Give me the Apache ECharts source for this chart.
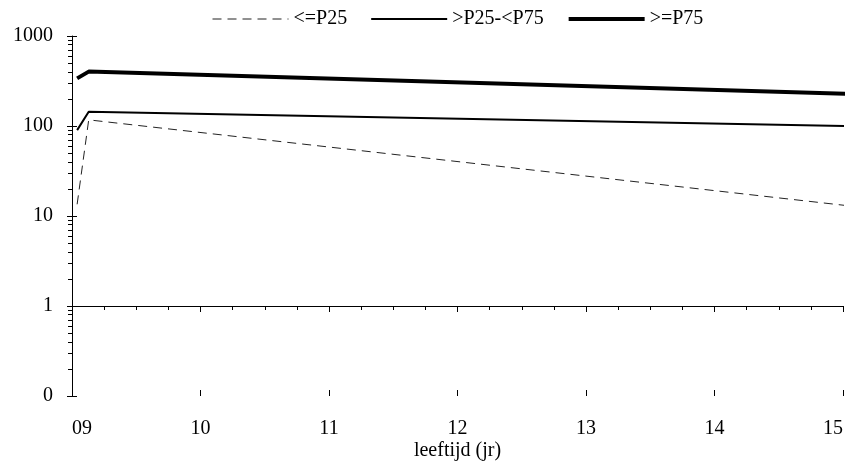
<!DOCTYPE html>
<html><head><meta charset="utf-8">
<script src="https://cdn.jsdelivr.net/npm/echarts@6/dist/echarts.min.js"></script>
<style>html,body{margin:0;padding:0;background:#fff}#c{width:857px;height:463px}</style>
</head><body><div id="c"></div>
<script>
// ---- data ----
const ages = [9.04, 9.13, 15.04];
const seriesNames = ['<=P25', '>P25-<P75', '>=P75'];
const valuesP25 = [13.5, 117, 13];
const valuesP25P75 = [90, 144, 100];
const valuesP75 = [338, 402, 228];
const xTickValues = [9, 10, 11, 12, 13, 14, 15];
const xTickLabels = ['09', '10', '11', '12', '13', '14', '15'];
const yTickValues = [0.1, 1, 10, 100, 1000];
const yTickLabels = ['0', '1', '10', '100', '1000'];
const yMinorTickValues = [0.2,0.3,0.4,0.5,0.6,0.7,0.8,0.9,2,3,4,5,6,7,8,9,20,30,40,50,60,70,80,90,200,300,400,500,600,700,800,900];

const FONT = "'Liberation Serif','Times New Roman',serif";
const chart = echarts.init(document.getElementById('c'), null, {renderer: 'canvas'});

function pairs(vals) { return ages.map((a, i) => [a, vals[i]]); }

const lineStyles = [
  {color: '#222', width: 1, type: [9, 6]},
  {color: '#000', width: 2, type: 'solid'},
  {color: '#000', width: 4, type: 'solid'}
];

const baseX = {
  type: 'value', min: 9, max: 15, interval: 1, gridIndex: 0
};
const baseY = {
  type: 'log', logBase: 10, min: 0.1, max: 1000, gridIndex: 0
};

chart.setOption({
  animation: false,
  backgroundColor: '#fff',
  textStyle: {fontFamily: FONT, color: '#000'},
  grid: {left: 72, right: 14, top: 36, bottom: 67, containLabel: false, outerBoundsMode: 'none'},
  legend: {
    data: seriesNames.map((n, i) => ({name: n, lineStyle: lineStyles[i]})),
    left: 207, top: 4,
    itemWidth: 76, itemHeight: 14, itemGap: 23,
    itemStyle: {opacity: 0},
    textStyle: {fontFamily: FONT, fontSize: 20, color: '#000', padding: [0, 0, 0, 0]},
    selectedMode: false
  },
  xAxis: [
    Object.assign({}, baseX, {
      position: 'bottom',
      name: 'leeftijd (jr)', nameLocation: 'middle', nameGap: 45, nameMoveOverlap: false,
      nameTextStyle: {fontFamily: FONT, fontSize: 20, color: '#000'},
      axisLine: {show: true, lineStyle: {color: '#000', width: 1}},
      axisTick: {show: true, length: 6, lineStyle: {color: '#000'}},
      minorTick: {show: true, splitNumber: 4, length: 4, lineStyle: {color: '#000'}},
      splitLine: {show: false},
      axisLabel: {
        fontFamily: FONT, fontSize: 20, color: '#000', margin: 23,
        alignMinLabel: 'left', alignMaxLabel: 'right',
        formatter: v => { const i = xTickValues.indexOf(Math.round(v)); return i >= 0 ? xTickLabels[i] : ''; }
      }
    }),
    Object.assign({}, baseX, {
      position: 'bottom',
      axisLine: {show: false},
      axisTick: {show: true, inside: true, length: 6, lineStyle: {color: '#000'}},
      axisLabel: {show: false},
      splitLine: {show: false}
    })
  ],
  yAxis: [
    Object.assign({}, baseY, {
      position: 'left',
      axisLine: {show: true, lineStyle: {color: '#000', width: 1}},
      axisTick: {show: true, length: 5, lineStyle: {color: '#000'}},
      splitLine: {show: false},
      axisLabel: {
        fontFamily: FONT, fontSize: 20, color: '#000', margin: 19,
        formatter: v => {
          let best = 0;
          yTickValues.forEach((t, i) => { if (Math.abs(Math.log10(t) - Math.log10(v)) < Math.abs(Math.log10(yTickValues[best]) - Math.log10(v))) best = i; });
          return yTickLabels[best];
        }
      }
    }),
    Object.assign({}, baseY, {
      position: 'left',
      axisLine: {show: false},
      axisTick: {show: true, inside: true, length: 5, lineStyle: {color: '#000'}},
      axisLabel: {show: false},
      splitLine: {show: false}
    }),
    {
      type: 'value', min: Math.log10(0.1), max: Math.log10(1000), gridIndex: 0,
      position: 'left',
      axisLine: {show: false},
      axisTick: {show: true, length: 4, lineStyle: {color: '#000'},
        customValues: yMinorTickValues.map(v => Math.log10(v))},
      axisLabel: {show: false},
      splitLine: {show: false}
    }
  ],
  series: [
    {
      name: seriesNames[0], type: 'line', xAxisIndex: 0, yAxisIndex: 0,
      data: pairs(valuesP25), symbol: 'none', clip: false, silent: true,
      color: '#222', lineStyle: lineStyles[0]
    },
    {
      name: seriesNames[1], type: 'line', xAxisIndex: 0, yAxisIndex: 0,
      data: pairs(valuesP25P75), symbol: 'none', clip: false, silent: true,
      color: '#000', lineStyle: lineStyles[1]
    },
    {
      name: seriesNames[2], type: 'line', xAxisIndex: 0, yAxisIndex: 0,
      data: pairs(valuesP75), symbol: 'none', clip: false, silent: true,
      color: '#000', lineStyle: lineStyles[2]
    }
  ]
});
</script>
</body></html>
